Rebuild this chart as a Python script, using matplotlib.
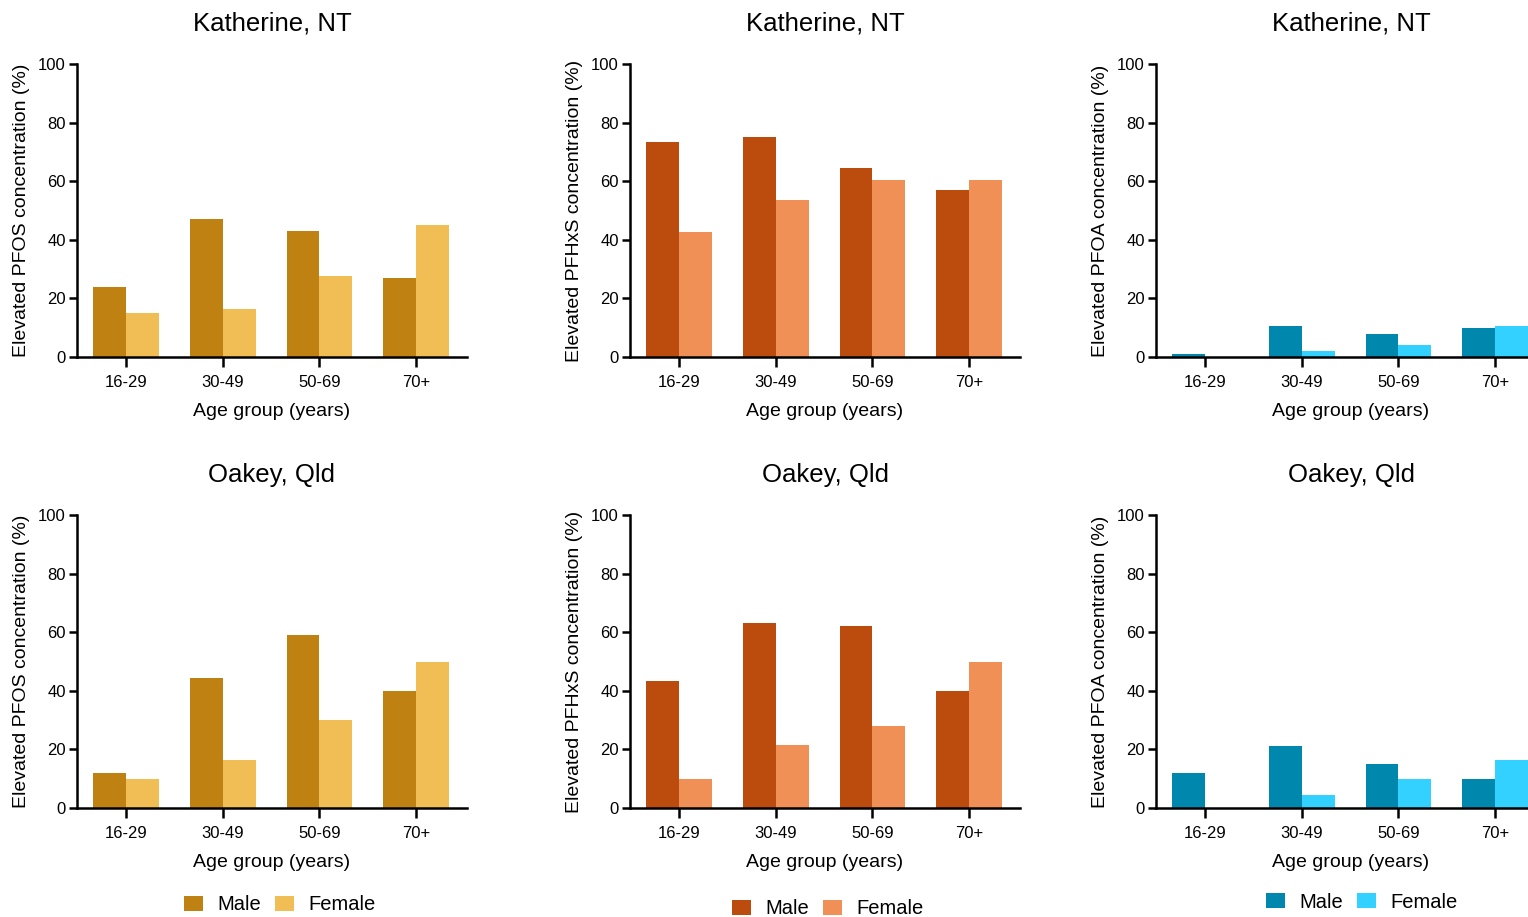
import matplotlib
matplotlib.use("Agg")
import matplotlib.pyplot as plt
from matplotlib.patches import Patch
import numpy as np

plt.rcParams["font.family"] = ["Liberation Sans", "DejaVu Sans"]

# ── Data ───────────────────────────────────────────────────────────────────────
age_groups = ["16-29", "30-49", "50-69", "70+"]
sites = ["Katherine, NT", "Oakey, Qld"]
chemicals = ["PFOS", "PFHxS", "PFOA"]

katherine_pfos_male = [24, 47, 43, 27]
katherine_pfos_female = [15, 16.5, 27.5, 45]
katherine_pfhxs_male = [73.5, 75, 64.5, 57]
katherine_pfhxs_female = [42.5, 53.5, 60.5, 60.5]
katherine_pfoa_male = [1, 10.5, 8, 10]
katherine_pfoa_female = [0, 2, 4, 10.5]

oakey_pfos_male = [12, 44.5, 59, 40]
oakey_pfos_female = [10, 16.5, 30, 50]
oakey_pfhxs_male = [43.5, 63, 62, 40]
oakey_pfhxs_female = [10, 21.5, 28, 50]
oakey_pfoa_male = [12, 21, 15, 10]
oakey_pfoa_female = [0, 4.5, 10, 16.5]

values = {
    ("Katherine, NT", "PFOS"): (katherine_pfos_male, katherine_pfos_female),
    ("Katherine, NT", "PFHxS"): (katherine_pfhxs_male, katherine_pfhxs_female),
    ("Katherine, NT", "PFOA"): (katherine_pfoa_male, katherine_pfoa_female),
    ("Oakey, Qld", "PFOS"): (oakey_pfos_male, oakey_pfos_female),
    ("Oakey, Qld", "PFHxS"): (oakey_pfhxs_male, oakey_pfhxs_female),
    ("Oakey, Qld", "PFOA"): (oakey_pfoa_male, oakey_pfoa_female),
}

# ── Styling ────────────────────────────────────────────────────────────────────
colors = {
    "PFOS": ("#BF8212", "#F1BD55"),
    "PFHxS": ("#BC4C0E", "#F19056"),
    "PFOA": ("#0087AD", "#33D1FF"),
}

W, H = 1528, 917
fig = plt.figure(figsize=(W / 100, H / 100), dpi=100)
fig.patch.set_facecolor("white")

col_left = [77, 630, 1156]       # pixel x of the y axis
row_bottom = [357, 808]          # pixel y of value 0
ax_w, ax_h = 390, 293
bar_w = 0.34
x = np.arange(len(age_groups))
legend_y = [905, 909, 902]
legend_x = [280, 828, 1362]

for r, site in enumerate(sites):
    for c, chem in enumerate(chemicals):
        ax = fig.add_axes([col_left[c] / W, 1 - row_bottom[r] / H, ax_w / W, ax_h / H])
        male, female = values[(site, chem)]
        cm, cf = colors[chem]
        ax.bar(x - bar_w, male, width=bar_w, align="edge", color=cm, label="Male")
        ax.bar(x, female, width=bar_w, align="edge", color=cf, label="Female")

        ax.set_xlim(-0.507, 3.525)
        ax.set_ylim(0, 100)
        ax.set_yticks([0, 20, 40, 60, 80, 100])
        ax.set_xticks(x)
        ax.set_xticklabels(age_groups)
        for s in ["top", "right"]:
            ax.spines[s].set_visible(False)
        for s in ["left", "bottom"]:
            ax.spines[s].set_linewidth(1.8)
        ax.tick_params(axis="both", width=1.8, length=6, labelsize=12, pad=2)
        ax.tick_params(axis="x", length=7, pad=6)

        ax.set_title(site, fontsize=18.5, pad=24)
        ax.set_xlabel("Age group (years)", fontsize=14, labelpad=9)
        ax.set_ylabel(f"Elevated {chem} concentration (%)", fontsize=14, labelpad=6)

        if r == 1:
            handles = [Patch(facecolor=cm, label="Male"), Patch(facecolor=cf, label="Female")]
            fig.legend(handles=handles, loc="center",
                       bbox_to_anchor=(legend_x[c] / W, 1 - legend_y[c] / H),
                       ncol=2, frameon=False, fontsize=14.5,
                       handlelength=0.95, handleheight=0.8, handletextpad=0.7,
                       columnspacing=0.7)

fig.savefig("out.png", dpi=100, facecolor="white")
plt.close(fig)
